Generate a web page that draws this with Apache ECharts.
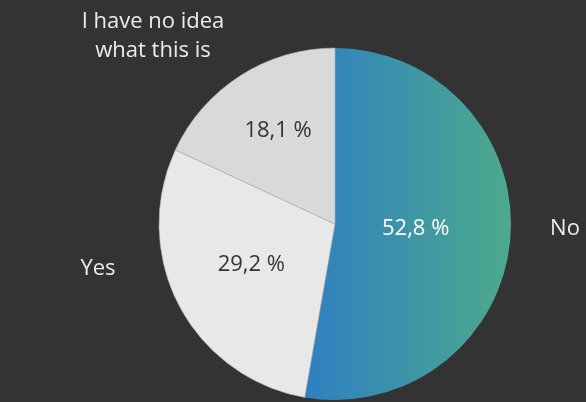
<!DOCTYPE html>
<html>
<head>
<meta charset="utf-8">
<script src="https://cdn.jsdelivr.net/npm/echarts@6/dist/echarts.min.js"></script>
<style>
  html, body { margin: 0; padding: 0; background: #333333; }
  #chart { width: 586px; height: 402px; }
</style>
</head>
<body>
<div id="chart"></div>
<script>
// Survey answers and their shares (percent)
const answers = ['No', 'Yes', 'I have no idea\nwhat this is'];
const shares = [52.8, 29.2, 18.1];

const sliceFills = [
  new echarts.graphic.LinearGradient(0, 0, 1, 0, [
    { offset: 0, color: '#2f7fc1' },
    { offset: 1, color: '#4daa8c' }
  ]),
  '#e8e8e8',
  '#d9d9d9'
];
const valueColors = ['#ffffff', '#333333', '#333333'];

// nudges for the value labels inside the slices
const valueNudge = [[-10, -3], [-3, -1], [-8, -17]];
// anchor points for the answer names around the pie
const nameAnchor = [[565, 229], [98, 269], [153, 36]];

const fontFamily = '"Open Sans", Lato, sans-serif';
const center = [335, 224];
const radius = 176;

const chart = echarts.init(document.getElementById('chart'));

chart.setOption({
  backgroundColor: '#333333',
  animation: false,
  series: [
    {
      // slices with their percentage inside
      type: 'pie',
      center: center,
      radius: radius,
      startAngle: 90,
      clockwise: true,
      silent: true,
      data: shares.map((v, i) => ({
        name: answers[i],
        value: v,
        itemStyle: {
          color: sliceFills[i],
          borderColor: i === 0 ? 'transparent' : '#b0b0b0',
          borderWidth: i === 0 ? 0 : 0.6
        },
        label: { color: valueColors[i] }
      })),
      label: {
        show: true,
        position: 'inner',
        fontFamily: fontFamily,
        fontSize: 22,
        formatter: p => p.value.toFixed(1).replace('.', ',') + ' %'
      },
      labelLine: { show: false },
      labelLayout: p => ({ dx: valueNudge[p.dataIndex][0], dy: valueNudge[p.dataIndex][1] })
    },
    {
      // answer names around the pie
      type: 'pie',
      center: center,
      radius: radius,
      startAngle: 90,
      clockwise: true,
      silent: true,
      itemStyle: { color: 'transparent' },
      data: shares.map((v, i) => ({ name: answers[i], value: v })),
      label: {
        show: true,
        position: 'outside',
        overflow: 'none',
        color: '#ececec',
        fontFamily: fontFamily,
        fontSize: 22,
        lineHeight: 29,
        align: 'center',
        formatter: '{b}'
      },
      labelLine: { show: false },
      labelLayout: p => ({
        x: nameAnchor[p.dataIndex][0],
        y: nameAnchor[p.dataIndex][1],
        align: 'center',
        verticalAlign: 'middle'
      })
    }
  ]
});
</script>
</body>
</html>
